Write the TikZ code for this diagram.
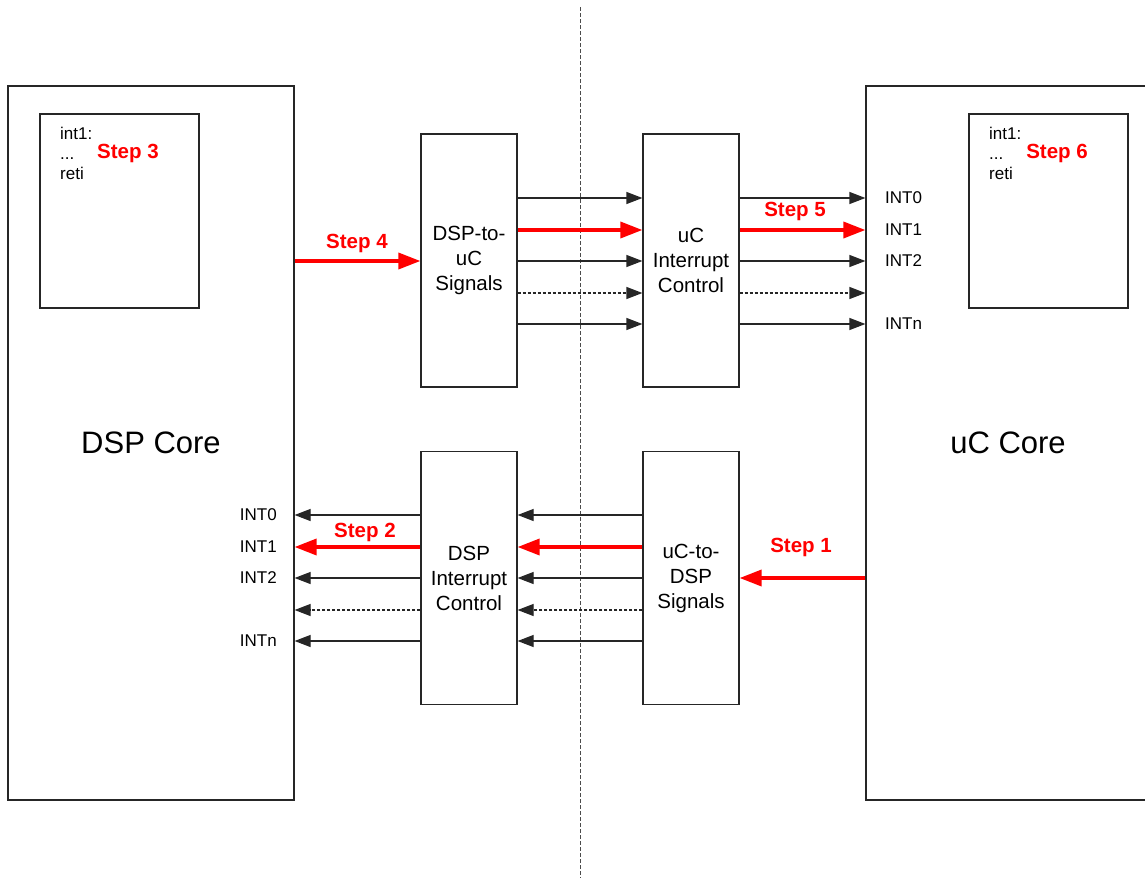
\documentclass[tikz,border=0pt]{standalone}
\usepackage{fontspec}
\setmainfont{Liberation Sans}
\usetikzlibrary{arrows.meta}
\definecolor{stepred}{RGB}{255,0,0}
\begin{document}
\begin{tikzpicture}[x=1pt,y=-1pt,
  box/.style={draw=black!85, line width=1.2pt, inner sep=0pt, align=center},
  coretext/.style={font=\fontsize{31}{35}\selectfont},
  blocktext/.style={font=\fontsize{20.5}{25}\selectfont},
  small/.style={font=\fontsize{17}{20}\selectfont, inner sep=0pt},
  steplabel/.style={font=\bfseries\fontsize{20.5}{24}\selectfont, text=stepred, inner sep=0pt},
  sig/.style={draw=black!85, line width=1.2pt, -{Triangle[length=16pt,width=12pt]}},
  dsig/.style={sig, dash pattern=on 3pt off 2pt},
  redsig/.style={draw=stepred, line width=3.5pt, -{Triangle[length=22pt,width=16pt]}},
  divider/.style={draw=black!70, line width=1pt, dash pattern=on 4pt off 2pt}
]
\useasboundingbox (0,0) rectangle (1145,878);

% divider
\coordinate (dtop) at (580,7);
\coordinate (dbot) at (580,878);
\draw[divider] (dtop) -- (dbot);

% cores
\node[box, coretext, minimum width=286, minimum height=714] (dsp) at (151,443) {DSP Core};
\node[box, coretext, minimum width=284, minimum height=714] (uc) at (1008,443) {uC Core};

% ISR boxes
\node[box, minimum width=159, minimum height=194] (isrl) at (119.5,211) {};
\node[box, minimum width=159, minimum height=194] (isrr) at (1048.5,211) {};
\node[small, anchor=west, align=left] (isrlt) at (60,153) {int1:\\...\\reti};
\node[small, anchor=west, align=left] (isrrt) at (989,153) {int1:\\...\\reti};
\node[steplabel] (s3) at (128,153) {Step 3};
\node[steplabel] (s6) at (1057,153) {Step 6};

% middle blocks
\node[box, blocktext, minimum width=96, minimum height=253] (d2u) at (469,260.5) {DSP-to-\\uC\\Signals};
\node[box, blocktext, minimum width=96, minimum height=253] (uic) at (691,260.5) {uC\\Interrupt\\Control};
\node[box, blocktext, minimum width=96, minimum height=253] (dic) at (469,578) {DSP\\Interrupt\\Control};
\node[box, blocktext, minimum width=96, minimum height=253] (u2d) at (691,578) {uC-to-\\DSP\\Signals};

% row coordinates
\coordinate (r1) at (0,198);
\coordinate (r2) at (0,230);
\coordinate (r3) at (0,261);
\coordinate (r4) at (0,293);
\coordinate (r5) at (0,324);
\coordinate (b1) at (0,515);
\coordinate (b2) at (0,547);
\coordinate (b3) at (0,578);
\coordinate (b4) at (0,610);
\coordinate (b5) at (0,641);

% top: DSP -> DSP-to-uC
\draw[redsig] (dsp.east|-r3) -- (d2u.west|-r3);
\node[steplabel] (s4) at (357,243) {Step 4};

% top: DSP-to-uC -> uC IC
\draw[sig] (d2u.east|-r1) -- (uic.west|-r1);
\draw[redsig] (d2u.east|-r2) -- (uic.west|-r2);
\draw[sig] (d2u.east|-r3) -- (uic.west|-r3);
\draw[dsig] (d2u.east|-r4) -- (uic.west|-r4);
\draw[sig] (d2u.east|-r5) -- (uic.west|-r5);

% top: uC IC -> uC core
\draw[sig] (uic.east|-r1) -- (uc.west|-r1);
\draw[redsig] (uic.east|-r2) -- (uc.west|-r2);
\draw[sig] (uic.east|-r3) -- (uc.west|-r3);
\draw[dsig] (uic.east|-r4) -- (uc.west|-r4);
\draw[sig] (uic.east|-r5) -- (uc.west|-r5);
\node[steplabel] (s5) at (795,211) {Step 5};

\node[small, anchor=west] (ui0) at (885,198) {INT0};
\node[small, anchor=west] (ui1) at (885,230) {INT1};
\node[small, anchor=west] (ui2) at (885,261) {INT2};
\node[small, anchor=west] (uin) at (885,324) {INTn};

% bottom: uC core -> uC-to-DSP
\draw[redsig] (uc.west|-b3) -- (u2d.east|-b3);
\node[steplabel] (s1) at (801,547) {Step 1};

% bottom: uC-to-DSP -> DSP IC
\draw[sig] (u2d.west|-b1) -- (dic.east|-b1);
\draw[redsig] (u2d.west|-b2) -- (dic.east|-b2);
\draw[sig] (u2d.west|-b3) -- (dic.east|-b3);
\draw[dsig] (u2d.west|-b4) -- (dic.east|-b4);
\draw[sig] (u2d.west|-b5) -- (dic.east|-b5);

% bottom: DSP IC -> DSP core
\draw[sig] (dic.west|-b1) -- (dsp.east|-b1);
\draw[redsig] (dic.west|-b2) -- (dsp.east|-b2);
\draw[sig] (dic.west|-b3) -- (dsp.east|-b3);
\draw[dsig] (dic.west|-b4) -- (dsp.east|-b4);
\draw[sig] (dic.west|-b5) -- (dsp.east|-b5);
\node[steplabel] (s2) at (365,532) {Step 2};

\node[small, anchor=east] (di0) at (277,515) {INT0};
\node[small, anchor=east] (di1) at (277,547) {INT1};
\node[small, anchor=east] (di2) at (277,578) {INT2};
\node[small, anchor=east] (din) at (277,641) {INTn};
\end{tikzpicture}
\end{document}
